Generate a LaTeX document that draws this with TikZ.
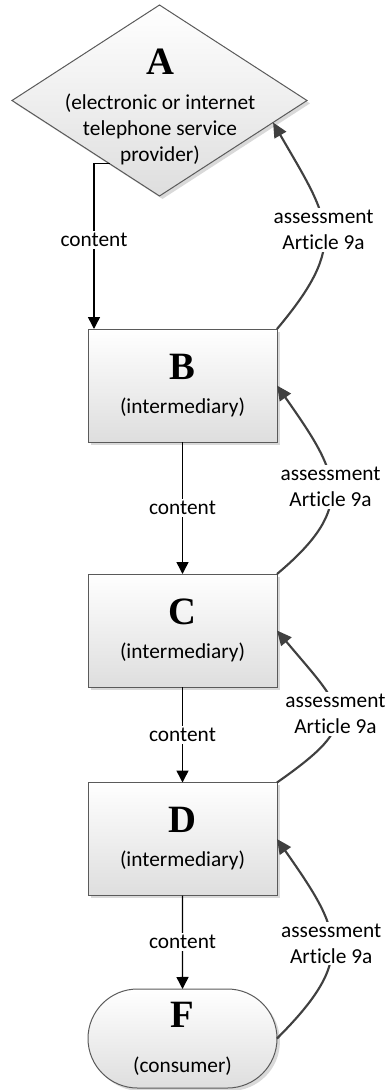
\documentclass[tikz,border=0pt]{standalone}
\usepackage{fontspec}
\setmainfont{Carlito}[Ligatures=NoCommon]
\newfontfamily\letterfont{Liberation Serif}
\usetikzlibrary{shapes.geometric,shapes.misc,shadows,arrows.meta,calc}
\definecolor{arcgray}{HTML}{404040}
\definecolor{linegray}{HTML}{5A5A5A}
\newcommand{\party}[1]{{\letterfont\fontsize{29}{29}\selectfont\bfseries #1}}

\begin{document}
\begin{tikzpicture}[x=0.75pt, y=0.75pt, font=\fontsize{16}{19.5}\selectfont,
main node/.style={draw=linegray, line width=0.75pt, top color=white, bottom color=black!13, outer sep=0pt, inner sep=0pt, drop shadow={shadow xshift=2.2pt, shadow yshift=-2.2pt, fill=black!15, opacity=1}},
party box/.style={main node, rectangle, minimum width=141.75pt, minimum height=84.75pt, align=center},
content arrow/.style={line width=1.1pt, -{Triangle[length=9pt, width=9pt]}},
assess arrow/.style={draw=arcgray, line width=1.6pt, -{Triangle[length=11pt, width=10pt]}},
lbl/.style={fill=white, inner sep=1.5pt, align=center}]%top color=white,
\useasboundingbox (0,0) rectangle (388,-1090);
\begin{scope}
\node[main node, diamond, minimum width=221.25pt, minimum height=143.25pt] (A) at (159.5,-100.5) {};
\node[align=center] (Atext) at (160,-107) {\party{A}\\[7pt](electronic or internet\\telephone service\\provider)};
\node[party box] (B) at (182.5,-385.5) {\party{B}\\[6pt](intermediary)};
\node[party box] (C) at (182.5,-630.5) {\party{C}\\[6pt](intermediary)};
\node[party box] (D) at (182.5,-839) {\party{D}\\[6pt](intermediary)};
\node[main node, rounded rectangle, minimum width=141.75pt, minimum height=74.25pt, align=center] (F) at (182.5,-1038.5) {\party{F}\\[14pt](consumer)};
%\node[party box] () at (,) {};
\end{scope}
\begin{scope}
\draw[content arrow] ($(A.west)!0.662!(A.south)$) -| node[lbl, pos=0.73]{content} ($(B.north west)+(6,0)$);
\draw[content arrow] (B) edge node[lbl]{content} (C);
\draw[content arrow] (C) edge node[lbl]{content} (D);
\draw[content arrow] (D) edge node[lbl]{content} (F);
\draw[assess arrow] (B.north east) to[out=50, in=-60, looseness=1.4] node[lbl]{assessment\\Article 9a} ($(A.east)!0.23!(A.south)$);
\draw[assess arrow] (C.north east) to[out=40, in=-55, looseness=1.45] node[lbl]{assessment\\Article 9a} (B.east);
\draw[assess arrow] (D.north east) to[out=35, in=-50, looseness=1.8] node[lbl]{assessment\\Article 9a} (C.east);
\draw[assess arrow] (F.east) to[out=45, in=-55, looseness=1.45] node[lbl]{assessment\\Article 9a} (D.east);
\end{scope}
\end{tikzpicture}
\end{document}
